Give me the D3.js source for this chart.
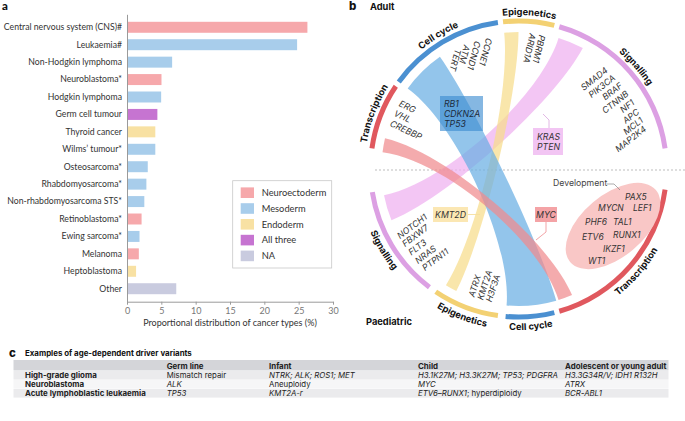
<!DOCTYPE html>
<html><head><meta charset="utf-8">
<script src="https://cdn.jsdelivr.net/npm/d3@7"></script>
<style>
body{margin:0;background:#fff;}
svg{display:block;font-family:Inter,"Open Sans",sans-serif;}
</style></head><body>
<svg id="c" width="685" height="421"></svg>
<script>
// ---------- Panel a data ----------
const categories = ["Central nervous system (CNS)#","Leukaemia#","Non-Hodgkin lymphoma","Neuroblastoma*","Hodgkin lymphoma","Germ cell tumour","Thyroid cancer","Wilms’ tumour*","Osteosarcoma*","Rhabdomyosarcoma*","Non-rhabdomyosarcoma STS*","Retinoblastoma*","Ewing sarcoma*","Melanoma","Heptoblastoma","Other"];
const values = [26.2,24.7,6.5,4.95,4.9,4.35,4.05,4.05,2.95,2.75,2.45,2.05,1.75,1.65,1.25,7.1];
const layers = ["Neuroectoderm","Mesoderm","Mesoderm","Neuroectoderm","Mesoderm","All three","Endoderm","Mesoderm","Mesoderm","Mesoderm","Mesoderm","Neuroectoderm","Mesoderm","Neuroectoderm","Endoderm","NA"];
const legendLabels = ["Neuroectoderm","Mesoderm","Endoderm","All three","NA"];
const legendColors = ["#f6a8ab","#a8cdeb","#f8e1a3","#c674d1","#c9cbdf"];
const xTicks = [0,5,10,15,20,25,30];

// ---------- Panel b data ----------
const groupNames = ["Transcription","Cell cycle","Epigenetics","Signalling"];
const groupColors = ["#e0585e","#4b90d1","#f3d173","#dca0e3"];
const ribbonColors = ["#f08a8e","#6aaee3","#f7dc8b","#eeb0f0"];
const adultStart = [-82,-54,-6,16];
const adultEnd = [-56,-8,14,82];
const paedStart = [98,166,188,217];
const paedEnd = [164,185,214,261];
const ribbonAdult = [[-83,-77],[-54,-35],[-6,0],[17,28]];
const ribbonPaed = [[157,163],[164,185],[207,212],[248,259]];
const adultGenes = [["ERG","VHL","CREBBP"],["CCNE1","CCND1","ATM","TERT"],["PBRM1","ARID1A"],["SMAD4","PIK3CA","BRAF","CTNNB","NF1","APC","MCL1","MAP2K4"]];
const paedGenes = [["NOTCH1","FBXW7","FLT3","NRAS","PTPN11"],["ATRX","KMT2A","H3F3A"]];
const devGenes = ["PAX5","MYCN","LEF1","PHF6","TAL1","ETV6","RUNX1","IKZF1","WT1"];
const sharedAdult = [["RB1","CDKN2A","TP53"],["KRAS","PTEN"]];
const sharedPaed = ["KMT2D","MYC"];

// ---------- Panel c data ----------
const tableHeader = ["","Germ line","Infant","Child","Adolescent or young adult"];
const tableRows = [
 ["High-grade glioma","Mismatch repair","*NTRK; ALK; ROS1; MET*","*H3.1K27M; H3.3K27M; TP53; PDGFRA*","*H3.3G34R/V; IDH1 R132H*"],
 ["Neuroblastoma","*ALK*","Aneuploidy","*MYC*","*ATRX*"],
 ["Acute lymphoblastic leukaemia","*TP53*","*KMT2A-r*","*ETV6–RUNX1*; hyperdiploidy","*BCR-ABL1*"]
];

const svg = d3.select("#c");

// ================= PANEL A =================
const colorOf = d3.scaleOrdinal(legendLabels, legendColors);
const x = d3.scaleLinear([0,30],[127,333]);
const y = d3.scaleBand(categories,[14.3,301.7]).paddingInner(0.37).paddingOuter(0.43);
const ga = svg.append("g").attr("font-family","Lato");
ga.append("text").attr("x",2).attr("y",10).attr("font-size",11.5).attr("font-weight",900).attr("fill","#111").text("a");
ga.selectAll("rect.bar").data(categories).join("rect").attr("class","bar")
  .attr("x",x(0)+0.5).attr("y",d=>y(d)).attr("height",y.bandwidth())
  .attr("width",(d,i)=>x(values[i])-x(0)).attr("fill",(d,i)=>colorOf(layers[i]));
const yAx = ga.append("g").attr("transform",`translate(${x(0)},0)`)
  .call(d3.axisLeft(y).tickSize(0).tickPadding(5).tickSizeOuter(0));
yAx.select(".domain").attr("stroke","#9a9a9a");
yAx.selectAll("text").attr("font-size",8.7).attr("fill","#333").attr("font-family","Lato");
const xAx = ga.append("g").attr("transform",`translate(0,${y.range()[1]})`)
  .call(d3.axisBottom(x).tickValues(xTicks).tickSize(3).tickSizeOuter(0));
xAx.select(".domain").attr("stroke","#9a9a9a");
xAx.selectAll("line").attr("stroke","#9a9a9a");
xAx.selectAll("text").attr("font-size",9).attr("fill","#777").attr("font-family","Lato");
ga.append("text").attr("x",230).attr("y",326).attr("text-anchor","middle").attr("font-size",9).attr("fill","#333")
  .text("Proportional distribution of cancer types (%)");
const lg = ga.append("g");
lg.append("rect").attr("x",232.7).attr("y",180.7).attr("width",99).attr("height",87.3).attr("fill","#fff").attr("stroke","#c8c8c8").attr("stroke-width",0.8);
const li = lg.selectAll("g.li").data(legendLabels).join("g").attr("class","li")
  .attr("transform",(d,i)=>`translate(240.7,${192.7+i*15.8})`);
li.append("rect").attr("y",-5.3).attr("width",13.3).attr("height",10.6).attr("fill",d=>colorOf(d));
li.append("text").attr("x",21).attr("y",3.3).attr("font-size",9.3).attr("fill","#333").text(d=>d);

// ================= PANEL B =================
const cx = 518.5, cy = 169;
const ang = d3.scaleLinear([0,360],[0,2*Math.PI]);
const pol = (deg,r)=>[cx + r*Math.sin(ang(deg)), cy - r*Math.cos(ang(deg))];
const gb = svg.append("g");
gb.append("text").attr("x",349).attr("y",10).attr("font-size",11.5).attr("font-weight",800).attr("fill","#111").text("b");
gb.append("text").attr("x",370).attr("y",10).attr("font-size",9.3).attr("font-weight",700).attr("fill","#111").text("Adult");
gb.append("text").attr("x",366).attr("y",325).attr("font-size",9.3).attr("font-weight",700).attr("fill","#111").text("Paediatric");
gb.append("line").attr("x1",375).attr("x2",685).attr("y1",cy+1).attr("y2",cy+1)
  .attr("stroke","#b5b5b5").attr("stroke-width",0.9).attr("stroke-dasharray","2,2");

const cg = gb.append("g").attr("transform",`translate(${cx},${cy})`);
const R = 137, K = 0.55;
function ribbonPath(s0,s1,t0,t1){
  const p = d3.path();
  const a = d=>ang(d)-Math.PI/2;
  const P = d=>[R*Math.cos(a(d)),R*Math.sin(a(d))];
  const S0=P(s0),S1=P(s1),T0=P(t0),T1=P(t1);
  p.moveTo(S0[0],S0[1]);
  p.arc(0,0,R,a(s0),a(s1),false);
  p.bezierCurveTo(S1[0]*K,S1[1]*K,T0[0]*K,T0[1]*K,T0[0],T0[1]);
  p.arc(0,0,R,a(t0),a(t1),false);
  p.bezierCurveTo(T1[0]*K,T1[1]*K,S0[0]*K,S0[1]*K,S0[0],S0[1]);
  p.closePath();
  return p.toString();
}
const ribbonOrder = [3,2,1,0];
cg.selectAll("path.rib").data(ribbonOrder).join("path").attr("class","rib")
  .attr("d",i=>ribbonPath(ribbonAdult[i][0],ribbonAdult[i][1],ribbonPaed[i][0],ribbonPaed[i][1]))
  .attr("fill",i=>ribbonColors[i]).attr("fill-opacity",0.72);

const arcGen = d3.arc().innerRadius(145.5).outerRadius(150.5);
cg.selectAll("path.ga").data(groupNames).join("path").attr("class","ga")
  .attr("d",(d,i)=>arcGen({startAngle:ang(adultStart[i]),endAngle:ang(adultEnd[i])})).attr("fill",(d,i)=>groupColors[i]);
cg.selectAll("path.gp").data(groupNames).join("path").attr("class","gp")
  .attr("d",(d,i)=>arcGen({startAngle:ang(paedStart[i]),endAngle:ang(paedEnd[i])})).attr("fill",(d,i)=>groupColors[i]);

function arcD(mid,r,cw){
  const a = d=>ang(d)-Math.PI/2;
  const p = d3.path();
  if(cw){ const s=mid-40,e=mid+40; p.moveTo(r*Math.cos(a(s)),r*Math.sin(a(s))); p.arc(0,0,r,a(s),a(e),false);}
  else { const s=mid+40,e=mid-40; p.moveTo(r*Math.cos(a(s)),r*Math.sin(a(s))); p.arc(0,0,r,a(s),a(e),true);}
  return p.toString();
}
const defs = svg.append("defs");
groupNames.forEach((n,i)=>{
  defs.append("path").attr("id","ta"+i).attr("d",arcD((adultStart[i]+adultEnd[i])/2,154,true));
  defs.append("path").attr("id","tp"+i).attr("d",arcD((paedStart[i]+paedEnd[i])/2,161,false));
});
groupNames.forEach((n,i)=>{
  cg.append("text").attr("font-size",9.3).attr("font-weight",700).attr("fill","#111")
    .append("textPath").attr("href","#ta"+i).attr("startOffset","50%").attr("text-anchor","middle").text(n);
  cg.append("text").attr("font-size",9.3).attr("font-weight",700).attr("fill","#111")
    .append("textPath").attr("href","#tp"+i).attr("startOffset","50%").attr("text-anchor","middle").text(n);
});

const geneLayout = [
  {genes:adultGenes[0], angles:[-61,-65.6,-70.2], r:136, rot:25, anchor:"start"},
  {genes:adultGenes[1], angles:[-12.6,-17.7,-22.6,-26.8], r:134, rot:105, anchor:"start"},
  {genes:adultGenes[2], angles:[10,6], r:136, rot:103, anchor:"start"},
  {genes:adultGenes[3], angles:[41.4,46,50.5,55,59.5,64,68,72], r:133, rot:-38, anchor:"end"},
  {genes:paedGenes[0], angles:[240.6,236.7,232.3,227.8,223.7], r:138, rot:-37, anchor:"start"},
  {genes:paedGenes[1], angles:[200.3,196.4,192.7], r:136, rot:-72, anchor:"start"}
];
geneLayout.forEach(g=>{
  g.genes.forEach((t,j)=>{
    const [px,py] = pol(g.angles[j],g.r);
    gb.append("text").attr("transform",`translate(${px},${py}) rotate(${g.rot})`)
      .attr("text-anchor",g.anchor).attr("dy","0.35em").attr("font-size",8.7).attr("font-style","italic").attr("fill","#333").text(t);
  });
});

gb.append("rect").attr("x",440).attr("y",96).attr("width",43).attr("height",35).attr("fill","#3a8bd0").attr("fill-opacity",0.62);
sharedAdult[0].forEach((t,j)=>gb.append("text").attr("x",444).attr("y",107+j*10).attr("font-size",8.7).attr("font-style","italic").attr("fill","#1c2a3a").text(t));
gb.append("polyline").attr("points","543,114 549,120 549,128").attr("fill","none").attr("stroke","#dba6de").attr("stroke-width",0.8);
gb.append("rect").attr("x",533).attr("y",128).attr("width",30).attr("height",27).attr("fill","#f2c5f3");
sharedAdult[1].forEach((t,j)=>gb.append("text").attr("x",537).attr("y",140+j*10).attr("font-size",8.7).attr("font-style","italic").attr("fill","#333").text(t));

gb.append("line").attr("x1",468).attr("x2",480).attr("y1",214.5).attr("y2",214.5).attr("stroke","#f5df9d").attr("stroke-width",0.9);
gb.append("rect").attr("x",433).attr("y",207).attr("width",35).attr("height",15).attr("fill","#fbe7b3");
gb.append("text").attr("x",450.5).attr("y",218).attr("text-anchor","middle").attr("font-size",8.7).attr("font-style","italic").attr("fill","#333").text(sharedPaed[0]);
gb.append("polyline").attr("points","546,222 546,232 536,240").attr("fill","none").attr("stroke","#f09a9d").attr("stroke-width",0.9);
gb.append("rect").attr("x",535).attr("y",207).attr("width",22).attr("height",15).attr("fill","#f4a3a6");
gb.append("text").attr("x",546).attr("y",218).attr("text-anchor","middle").attr("font-size",8.7).attr("font-style","italic").attr("fill","#333").text(sharedPaed[1]);

gb.append("ellipse").attr("transform","translate(613,226) rotate(-40)").attr("rx",56).attr("ry",31).attr("fill","#f9c7c6");
gb.append("text").attr("x",553).attr("y",186).attr("font-size",8.7).attr("fill","#444").text("Development");
gb.append("polyline").attr("points","607,184 614,184 620,190").attr("fill","none").attr("stroke","#888").attr("stroke-width",0.7);
const devPos = [[625,200],[598,211],[633,211],[585,225],[613,225],[582,240],[613,237.5],[603,252],[588,263.5]];
devGenes.forEach((t,i)=>gb.append("text").attr("x",devPos[i][0]).attr("y",devPos[i][1]).attr("font-size",8.5).attr("font-style","italic").attr("fill","#333").text(t));

// ================= PANEL C =================
const gc = svg.append("g");
gc.append("text").attr("x",9).attr("y",357).attr("font-size",11.5).attr("font-weight",800).attr("fill","#111").text("c");
gc.append("text").attr("x",25).attr("y",356).attr("font-size",7.9).attr("font-weight",700).attr("fill","#111").text("Examples of age-dependent driver variants");
const colX = [25,166.7,269,418,565];
const rowY = [360,371,380,389];
const rowH = [10.5,8.6,8.6,8.6];
const rowFill = ["#d4d5d9","#ebebed","#f6f6f7","#ebebed"];
rowY.forEach((yy,i)=>gc.append("rect").attr("x",13.5).attr("y",yy).attr("width",655).attr("height",rowH[i]).attr("fill",rowFill[i]));
function cell(txt,x0,y0,bold){
  const t = gc.append("text").attr("x",x0).attr("y",y0).attr("font-size",bold?7.9:7.8).attr("fill","#222").attr("font-weight",bold?700:400);
  txt.split(/(\*[^*]+\*)/).filter(s=>s.length).forEach(s=>{
    if(s.startsWith("*")) t.append("tspan").attr("font-style","italic").text(s.slice(1,-1));
    else t.append("tspan").text(s);
  });
}
tableHeader.forEach((h,j)=>cell(h,colX[j],368.5,true));
tableRows.forEach((row,i)=>row.forEach((c,j)=>cell(c,colX[j],378.2+i*8.8,j===0)));
</script>
</body></html>
